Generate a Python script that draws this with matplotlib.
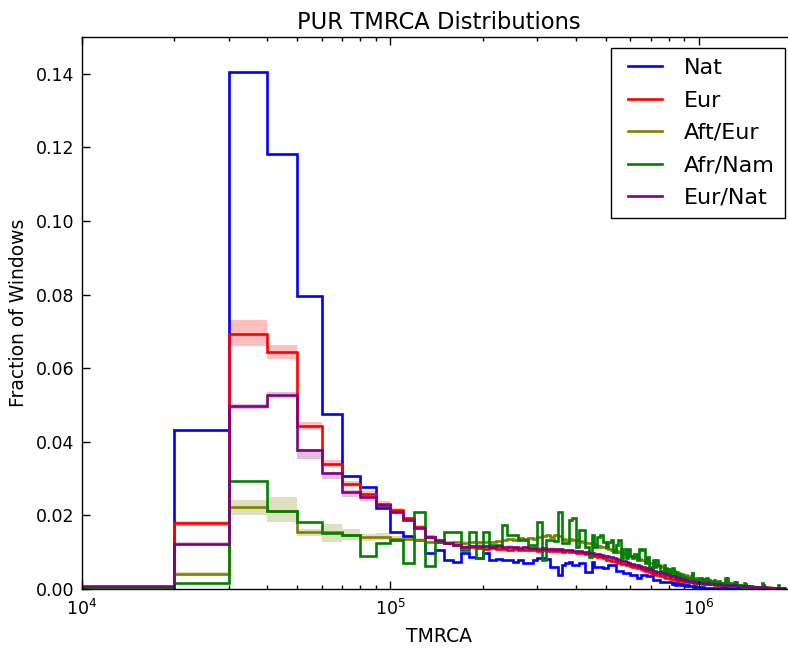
import numpy as np
import matplotlib
matplotlib.use("Agg")
import matplotlib.pyplot as plt
from matplotlib.lines import Line2D
from matplotlib.legend_handler import HandlerLine2D
from matplotlib.ticker import LogLocator, NullFormatter, FormatStrFormatter

# Histogram binning: 10 kyr bins starting at 1e4
bin_width = 1e4
first_edge = 1e4

# Fraction of windows per bin, in units of 1e-3 (bins 10k-20k, 20k-30k, ...)
nat = [
    0.5, 43.2, 140.5, 118.3, 79.6, 47.5, 30.7, 27.8, 22.0, 15.5,
    14.4, 13.3, 9.9, 10.6, 8.0, 7.4, 9.8, 8.8, 8.3, 9.9,
    7.9, 8.2, 8.0, 7.9, 7.4, 7.9, 7.0, 7.1, 7.9, 8.3,
    8.3, 8.1, 6.0, 6.0, 3.8, 6.5, 7.0, 7.4, 6.5, 6.5,
    7.0, 7.0, 4.7, 4.7, 7.4, 6.0, 6.0, 6.0, 5.6, 5.6,
    6.5, 6.5, 6.5, 5.0, 5.0, 5.0, 4.3, 4.3, 4.3, 3.8,
    3.8, 3.8, 2.9, 2.9, 3.8, 3.8, 3.8, 3.4, 3.4, 3.4,
    2.4, 2.4, 2.4, 2.4, 2.0, 2.0, 2.0, 2.0, 2.0, 2.0,
    1.8, 1.4, 1.6, 1.2, 1.5, 1.3, 1.1, 1.4, 1.0, 1.2,
    0.9, 1.0, 0.8, 0.7, 0.9, 0.6, 0.7, 0.5, 0.6, 0.5,
    0.6, 0.4, 0.5, 0.4, 0.3, 0.4, 0.3, 0.4, 0.3, 0.3,
    0.3, 0.2, 0.3, 0.2, 0.2, 0.3, 0.2, 0.2, 0.1, 0.2,
    0.2, 0.1, 0.2, 0.1, 0.2, 0.1, 0.1, 0.2, 0.1, 0.1,
    0.1, 0.1, 0.2, 0.1, 0.1, 0.1, 0.1, 0.1, 0.1, 0.1,
    0.1, 0.1, 0.1, 0.0, 0.1, 0.1, 0.0, 0.1, 0.0, 0.1,
    0.0, 0.1, 0.0, 0.0, 0.1, 0.0, 0.0, 0.0, 0.1, 0.0,
    0.0, 1.0, 0.0, 0.0, 0.0, 0.1, 0.0, 0.0, 0.0, 0.0,
    0.0, 0.0, 0.0, 0.0, 0.0, 0.0, 0.0, 0.0, 0.0, 0.0,
    0.0, 0.0, 0.0, 0.0, 0.0, 0.0, 0.0, 0.0, 0.0, 0.0,
    0.0,
]

eur = [
    0.4, 17.8, 69.4, 64.4, 44.3, 34.1, 28.5, 25.8, 23.2, 21.4,
    19.2, 16.9, 14.2, 12.8, 12.4, 11.9, 11.5, 11.5, 11.2, 11.0,
    11.1, 10.8, 10.9, 10.7, 10.8, 10.6, 10.7, 10.5, 10.6, 10.4,
    10.5, 10.3, 10.4, 10.2, 10.3, 10.1, 10.2, 10.0, 10.0, 9.9,
    9.8, 9.7, 9.5, 9.4, 9.2, 9.0, 8.8, 8.6, 8.4, 8.0,
    7.9, 7.7, 7.5, 7.3, 7.1, 6.9, 6.7, 6.6, 6.4, 6.3,
    6.1, 5.9, 5.8, 5.6, 5.4, 5.2, 5.0, 4.8, 4.6, 4.4,
    4.2, 4.0, 3.9, 3.7, 3.6, 3.4, 3.3, 3.1, 3.0, 2.9,
    2.8, 2.7, 2.6, 2.5, 2.4, 2.3, 2.2, 2.2, 2.1, 2.0,
    1.96, 1.91, 1.87, 1.83, 1.79, 1.75, 1.71, 1.67, 1.63, 1.59,
    1.55, 1.52, 1.48, 1.46, 1.42, 1.40, 1.37, 1.33, 1.31, 1.28,
    1.26, 1.22, 1.20, 1.18, 1.15, 1.13, 1.11, 1.08, 1.07, 1.05,
    1.03, 1.01, 0.99, 0.97, 0.95, 0.94, 0.92, 0.90, 0.88, 0.87,
    0.85, 0.83, 0.81, 0.80, 0.78, 0.76, 0.75, 0.73, 0.71, 0.70,
    0.68, 0.67, 0.65, 0.64, 0.62, 0.61, 0.59, 0.58, 0.57, 0.55,
    0.54, 0.53, 0.51, 0.50, 0.49, 0.48, 0.47, 0.46, 0.45, 0.44,
    0.42, 0.41, 0.40, 0.39, 0.37, 0.36, 0.35, 0.34, 0.33, 0.32,
    0.31, 0.30, 0.29, 0.28, 0.27, 0.27, 0.26, 0.25, 0.24, 0.23,
    0.23, 0.22, 0.21, 0.21, 0.20, 0.20, 0.19, 0.19, 0.18, 0.18,
    0.17,
]

aft_eur = [
    0.3, 4.1, 22.2, 21.2, 15.4, 15.6, 14.6, 14.0, 14.2, 13.7,
    13.7, 13.3, 12.8, 12.9, 12.6, 12.8, 12.6, 12.8, 12.7, 12.9,
    12.8, 13.0, 13.2, 13.5, 13.4, 13.8, 13.6, 13.9, 13.7, 14.2,
    14.4, 14.6, 14.2, 14.6, 14.3, 13.6, 13.4, 13.5, 13.3, 13.4,
    13.1, 12.8, 12.6, 12.4, 12.2, 12.0, 11.8, 11.5, 11.3, 11.1,
    10.9, 10.7, 10.5, 10.3, 10.1, 9.9, 9.7, 9.4, 9.2, 9.0,
    8.8, 8.6, 8.4, 8.2, 8.0, 7.8, 7.6, 7.4, 7.2, 7.0,
    6.8, 6.7, 6.5, 6.3, 6.2, 6.0, 5.8, 5.7, 5.5, 5.3,
    5.1, 5.0, 4.8, 4.7, 4.5, 4.4, 4.2, 4.1, 3.9, 3.8,
    3.7, 3.5, 3.4, 3.3, 4.4, 3.1, 3.0, 2.9, 2.8, 2.7,
    2.6, 2.5, 2.4, 2.35, 2.3, 2.2, 2.15, 2.1, 2.0, 1.95,
    1.9, 1.85, 1.8, 1.75, 1.7, 1.65, 1.6, 1.55, 1.5, 1.45,
    1.42, 1.38, 1.35, 1.32, 1.28, 1.25, 1.22, 1.18, 1.15, 1.12,
    1.1, 1.07, 1.04, 1.01, 0.98, 0.96, 0.93, 0.9, 0.88, 0.86,
    0.84, 0.82, 0.8, 0.78, 0.76, 0.74, 0.72, 0.7, 0.68, 0.66,
    0.64, 0.62, 0.61, 0.59, 0.58, 0.56, 0.55, 0.53, 0.52, 0.5,
    0.49, 0.48, 0.46, 0.45, 0.44, 0.43, 0.42, 0.41, 0.4, 0.39,
    0.38, 0.37, 0.36, 0.35, 0.34, 0.33, 0.32, 0.31, 0.3, 0.29,
    0.28, 0.27, 0.27, 0.26, 0.25, 0.25, 0.24, 0.23, 0.23, 0.22,
    0.22,
]

afr_nam = [
    0.3, 1.5, 29.3, 21.2, 18.3, 15.3, 14.7, 9.0, 12.6, 13.3,
    7.2, 21.0, 6.2, 12.8, 15.5, 15.5, 10.6, 15.5, 8.3, 15.5,
    11.9, 11.9, 17.4, 14.6, 14.6, 13.3, 13.3, 11.9, 11.9, 18.3,
    7.9, 13.3, 13.3, 13.0, 21.0, 12.4, 12.4, 18.7, 19.2, 11.5,
    16.0, 16.0, 11.5, 8.8, 14.6, 11.5, 14.2, 14.6, 12.8, 11.5,
    12.8, 13.3, 10.1, 11.9, 13.3, 8.3, 11.0, 8.3, 11.0, 9.0,
    8.3, 9.5, 7.9, 11.0, 10.5, 11.0, 7.0, 8.6, 6.0, 5.6,
    7.9, 6.0, 7.9, 6.5, 5.0, 4.7, 6.5, 4.7, 5.5, 4.7,
    3.5, 5.7, 3.8, 4.5, 3.0, 4.2, 2.9, 3.8, 2.4, 3.3,
    2.2, 3.0, 1.8, 2.6, 4.4, 2.0, 2.8, 1.7, 2.5, 3.0,
    1.6, 2.9, 2.0, 2.6, 1.4, 2.9, 1.9, 2.4, 1.5, 2.2,
    1.4, 2.4, 1.3, 1.9, 1.2, 2.2, 1.4, 1.7, 1.0, 1.5,
    1.2, 2.9, 1.6, 3.0, 1.1, 1.5, 0.9, 1.3, 0.8, 1.9,
    1.0, 2.0, 0.7, 1.2, 0.8, 1.0, 0.6, 0.9, 0.7, 1.5,
    0.6, 1.6, 0.5, 0.8, 0.6, 0.9, 0.4, 0.7, 0.5, 0.6,
    0.4, 0.7, 0.3, 0.5, 0.4, 0.6, 0.3, 0.4, 0.3, 0.5,
    1.6, 0.3, 0.4, 0.2, 0.3, 0.2, 0.4, 0.2, 0.3, 0.2,
    0.2, 0.3, 0.1, 0.2, 0.1, 0.2, 0.1, 0.2, 0.1, 0.1,
    1.0, 0.8, 0.1, 0.1, 0.2, 0.1, 0.1, 0.1, 0.1, 0.2,
    0.1,
]

eur_nat = [
    0.7, 12.2, 49.6, 52.8, 37.7, 31.4, 26.4, 24.9, 22.8, 21.0,
    18.7, 16.5, 14.2, 13.3, 12.6, 11.9, 11.3, 11.6, 11.8, 11.6,
    11.5, 11.6, 11.4, 11.5, 11.3, 11.2, 11.3, 11.1, 11.2, 11.0,
    11.1, 10.9, 11.0, 10.8, 10.8, 10.7, 10.6, 10.5, 10.4, 10.3,
    10.2, 10.1, 10.0, 9.8, 9.7, 9.5, 9.4, 9.2, 9.1, 9.0,
    8.8, 8.6, 8.4, 8.2, 7.9, 7.7, 7.5, 7.3, 7.1, 6.9,
    6.7, 6.5, 6.4, 6.2, 6.0, 5.9, 5.7, 5.5, 5.4, 5.2,
    5.0, 4.9, 4.7, 4.6, 4.4, 4.3, 4.1, 4.0, 3.9, 3.8,
    3.6, 3.5, 3.4, 3.2, 3.1, 3.0, 2.8, 2.7, 2.6, 2.4,
    2.3, 2.25, 2.2, 2.1, 2.05, 2.0, 1.9, 1.85, 1.8, 1.75,
    1.72, 1.68, 1.64, 1.61, 1.58, 1.55, 1.52, 1.49, 1.46, 1.43,
    1.40, 1.37, 1.34, 1.31, 1.29, 1.26, 1.24, 1.22, 1.20, 1.18,
    1.16, 1.14, 1.12, 1.10, 1.08, 1.06, 1.04, 1.02, 1.00, 0.98,
    0.96, 0.94, 0.92, 0.90, 0.88, 0.86, 0.84, 0.82, 0.80, 0.78,
    0.76, 0.74, 0.72, 0.70, 0.68, 0.66, 0.65, 0.63, 0.61, 0.60,
    0.58, 0.57, 0.55, 0.54, 0.53, 0.52, 0.51, 0.50, 0.49, 0.48,
    0.46, 0.45, 0.43, 0.42, 0.40, 0.39, 0.38, 0.37, 0.36, 0.35,
    0.34, 0.33, 0.32, 0.31, 0.30, 0.29, 0.28, 0.27, 0.26, 0.25,
    0.25, 0.24, 0.23, 0.23, 0.22, 0.22, 0.21, 0.21, 0.20, 0.20,
    0.19,
]

# Bootstrap spread below / above the line for the leading bins (units of 1e-3);
# later bins use tail_spread
eur_spread_lo = [0.2, 0.8, 3.3, 1.8, 1.0, 0.9, 0.8, 0.7, 0.6, 0.6, 0.5, 0.5]
eur_spread_hi = [0.2, 0.8, 3.8, 2.0, 1.0, 0.9, 0.8, 0.7, 0.6, 0.6, 0.5, 0.5]
aft_eur_spread_lo = [0.2, 0.6, 2.0, 2.9, 1.0, 2.9, 1.3, 1.0, 1.0, 0.8, 0.7, 0.6]
aft_eur_spread_hi = [0.2, 0.6, 2.0, 3.8, 1.0, 2.1, 1.6, 1.0, 1.0, 0.8, 0.7, 0.6]
eur_nat_spread_lo = [0.2, 0.6, 0.6, 0.8, 2.3, 1.6, 1.5, 1.0, 0.8, 0.7, 0.6, 0.5]
eur_nat_spread_hi = [0.2, 0.6, 0.6, 0.8, 0.4, 0.4, 0.5, 0.6, 0.6, 0.6, 0.5, 0.5]
tail_spread = 0.35

labels = ["Nat", "Eur", "Aft/Eur", "Afr/Nam", "Eur/Nat"]
colors = ["#0000ff", "#ff0000", "#808000", "#008000", "#800080"]
line_width = 1.9


def to_fraction(vals):
    return np.asarray(vals, dtype=float) / 1000.0


def band(vals, lo, hi):
    v = to_fraction(vals)
    n = len(v)
    lo_full = np.full(n, tail_spread)
    hi_full = np.full(n, tail_spread)
    lo_full[:len(lo)] = lo
    hi_full[:len(hi)] = hi
    return np.clip(v - lo_full / 1000.0, 0, None), v + hi_full / 1000.0


series = [nat, eur, aft_eur, afr_nam, eur_nat]
bands = [None,
         (eur_spread_lo, eur_spread_hi),
         (aft_eur_spread_lo, aft_eur_spread_hi),
         None,
         (eur_nat_spread_lo, eur_nat_spread_hi)]

n_bins = len(nat)
edges = first_edge + bin_width * np.arange(n_bins + 1)

plt.rcParams.update({
    "font.family": ["DejaVu Sans"],
    "xtick.direction": "in",
    "ytick.direction": "in",
    "xtick.top": True,
    "ytick.right": True,
    "xtick.major.pad": 7,
    "ytick.major.pad": 5,
    "axes.linewidth": 1.0,
})

fig = plt.figure(figsize=(7.88, 6.5), dpi=100, facecolor="white")
# The plotting area runs slightly past the right edge of the canvas
ax = fig.add_axes([81.5 / 788, 61 / 650, (796 - 81.5) / 788, (589 - 37) / 650])

# Shaded spreads first, then the step lines on top
for vals, b, c in zip(series, bands, colors):
    if b is None:
        continue
    lo, hi = band(vals, *b)
    ax.stairs(hi, edges, baseline=lo, fill=True, color=c, alpha=0.25, linewidth=0)

for vals, lab, c in zip(series, labels, colors):
    ax.stairs(to_fraction(vals), edges, baseline=None, color=c, linewidth=line_width, label=lab)

ax.set_xscale("log")
ax.set_xlim(1e4, 2.07e6)
ax.xaxis.set_major_locator(LogLocator(base=10, numticks=20))
ax.xaxis.set_minor_locator(LogLocator(base=10, subs=tuple(range(2, 10)), numticks=100))
ax.xaxis.set_minor_formatter(NullFormatter())
ax.set_ylim(0, 0.15)
ax.set_yticks(np.arange(0, 0.141, 0.02))
ax.yaxis.set_major_formatter(FormatStrFormatter("%.2f"))
ax.tick_params(axis="both", which="major", labelsize=12.5, length=5.5, width=1.0)
ax.tick_params(axis="x", which="minor", length=3.0, width=1.0, top=True, bottom=True)

ax.set_title("PUR TMRCA Distributions", fontsize=16.3, pad=6)
ax.set_xlabel("TMRCA", fontsize=13.5, labelpad=6)
ax.set_ylabel("Fraction of Windows", fontsize=13.5, labelpad=6)

# Legend keys as plain line segments with some space before each one
legend_handles = [Line2D([], [], color=c, linewidth=line_width) for c in colors]
leg = ax.legend(legend_handles, labels, loc="upper right", fontsize=16,
                fancybox=False, framealpha=1, edgecolor="black",
                handlelength=1.85, handletextpad=1.0, labelspacing=0.56,
                borderpad=0.45, borderaxespad=0.5,
                handler_map={Line2D: HandlerLine2D(xpad=0.35)})
leg.get_frame().set_linewidth(1.0)

fig.savefig("out.png", dpi=100, facecolor="white")
